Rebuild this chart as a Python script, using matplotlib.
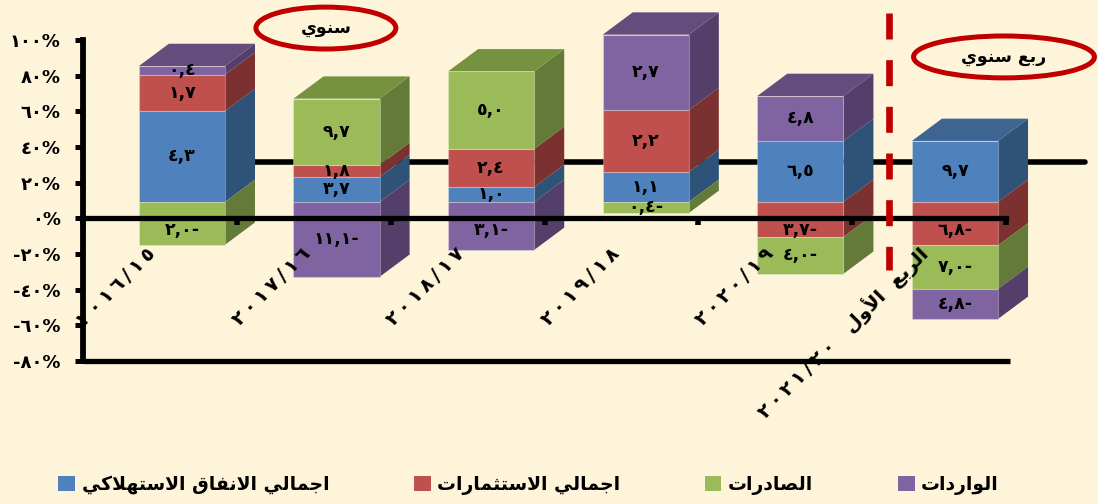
import unicodedata
import numpy as np
import matplotlib
matplotlib.use("Agg")
import matplotlib.pyplot as plt
from matplotlib.patches import Ellipse, Polygon, Patch

plt.rcParams['font.family'] = ['DejaVu Sans']
plt.rcParams['font.weight'] = 'bold'

# drawn height of each segment
blue = [51, 14, 8.4, 16.8, 34.2, 34.2]
red = [20.4, 6.7, 21.3, 34.7, -19.6, -24.4]
green = [-24, 37.2, 43.5, -6.2, -20.7, -24.4]
purple = [4.8, -42, -26.9, 42.3, 25.2, -16.8]

# printed labels
blue_labels = ["٤,٣", "٣,٧", "١,٠", "١,١", "٦,٥", "٩,٧"]
red_labels = ["١,٧", "١,٨", "٢,٤", "٢,٢", "٣,٧-", "٦,٨-"]
green_labels = ["٢,٠-", "٩,٧", "٥,٠", "٠,٤-", "٤,٠-", "٧,٠-"]
purple_labels = ["٠,٤", "١١,١-", "٣,١-", "٢,٧", "٤,٨", "٤,٨-"]

y_ticks = [100, 80, 60, 40, 20, 0, -20, -40, -60, -80]
y_tick_labels = ["١٠٠%", "٨٠%", "٦٠%", "٤٠%", "٢٠%", "٠%", "-٢٠%", "-٤٠%", "-٦٠%", "-٨٠%"]
years = ["٢٠١٦/١٥", "٢٠١٧/١٦", "٢٠١٨/١٧", "٢٠١٩/١٨", "٢٠٢٠/١٩", "٢٠٢١/٢٠"]


NO_NEXT = set("اأإآدذرزوؤةى")


def shape(text):
    # matplotlib does not join arabic letters, so pick the forms by hand
    # and put them in visual order
    out = []
    n = len(text)
    i = 0
    while i < n:
        c = text[i]
        if c == " ":
            out.append(c)
            i += 1
            continue
        joins_prev = i > 0 and text[i - 1] != " " and text[i - 1] not in NO_NEXT
        if c == "ل" and i + 1 < n and text[i + 1] in "اأ":
            base = "ARABIC LIGATURE LAM WITH ALEF"
            if text[i + 1] == "أ":
                base += " WITH HAMZA ABOVE"
            form = "FINAL FORM" if joins_prev else "ISOLATED FORM"
            out.append(unicodedata.lookup(base + " " + form))
            i += 2
            continue
        joins_next = c not in NO_NEXT and i + 1 < n and text[i + 1] != " "
        if joins_prev and joins_next:
            form = "MEDIAL FORM"
        elif joins_prev:
            form = "FINAL FORM"
        elif joins_next:
            form = "INITIAL FORM"
        else:
            form = "ISOLATED FORM"
        out.append(unicodedata.lookup(unicodedata.name(c) + " " + form))
        i += 1
    return "".join(reversed(out))


def spread(text):
    # the original digits sit far apart
    return "\u2009".join(text)


cat_labels = [spread(y) for y in years[:5]]
cat_labels.append(spread(years[5]) + "   " + shape("الربع  الأول"))
series_names = [shape("اجمالي الانفاق الاستهلاكي"), shape("اجمالي الاستثمارات"),
                shape("الصادرات"), shape("الواردات")]

bg = "#FEF4D9"
colors = ["#4F81BD", "#C0504D", "#9BBB59", "#8064A2"]
side_colors = ["#2F5279", "#7B3130", "#647A39", "#533F69"]
top_colors = ["#3E6591", "#8F3C3A", "#76923F", "#624D7C"]
all_values = [blue, red, green, purple]
all_labels = [blue_labels, red_labels, green_labels, purple_labels]

W, H = 1098, 504
fig = plt.figure(figsize=(W / 100, H / 100), dpi=100, facecolor=bg)
ax = fig.add_axes([83 / W, 1 - 361 / H, (1006 - 83) / W, (361 - 40) / H])
ax.set_facecolor("none")

x0 = -0.64
x1 = 5.33
ax.set_xlim(x0, x1)
ax.set_ylim(-80, 100)

base = 9.2      # front of the bars stands above the zero line
bar_w = 0.557
dx = 0.194
dy = 12.5
x = np.arange(6)

# line behind the bars
ax.plot([0, 5.84], [31.4, 31.4], color="black", lw=4, zorder=1,
        clip_on=False, solid_capstyle="round")

for i in x:
    pos = base
    neg = base
    top_series = 0
    for s, vals in enumerate(all_values):
        v = vals[i]
        if v >= 0:
            b = pos
            pos += v
            top_series = s
        else:
            b = neg + v
            neg += v
        ax.bar(i, abs(v), bottom=b, width=bar_w, color=colors[s],
               edgecolor=(1, 1, 1, 0.25), linewidth=0.8, zorder=3, clip_on=False)
        r = i + bar_w / 2
        ax.add_patch(Polygon([(r, b), (r, b + abs(v)), (r + dx, b + abs(v) + dy), (r + dx, b + dy)],
                             closed=True, facecolor=side_colors[s], edgecolor="none",
                             zorder=2, clip_on=False))
        mid = b + abs(v) / 2
        # labels crossing the zero line were pushed below it
        if b < 0 < b + abs(v) and abs(v) > 8:
            mid = min(mid, -6.5)
        ax.text(i, mid, all_labels[s][i], ha="center", va="center", fontsize=12.5,
                color="black", zorder=6)
    l = i - bar_w / 2
    r = i + bar_w / 2
    ax.add_patch(Polygon([(l, pos), (r, pos), (r + dx, pos + dy), (l + dx, pos + dy)],
                         closed=True, facecolor=top_colors[top_series], edgecolor="none",
                         zorder=2, clip_on=False))

for name in ["top", "right"]:
    ax.spines[name].set_visible(False)
ax.spines["left"].set_linewidth(4.2)
ax.spines["bottom"].set_linewidth(3.8)
ax.spines["bottom"].set_position(("data", 0))
ax.spines["left"].set_zorder(5)
ax.spines["bottom"].set_zorder(5)
ax.set_axisbelow(False)

ax.plot([x0, x1 + 0.025], [-80, -80], color="black", lw=3.8, zorder=5, clip_on=False,
        solid_capstyle="butt")

ax.set_yticks(y_ticks)
ax.set_yticklabels(y_tick_labels, fontsize=13)
ax.tick_params(axis="y", length=6, width=3.6, pad=10)
ax.set_xticks(np.linspace(x0, x1, 7))
ax.set_xticklabels([])
ax.tick_params(axis="x", direction="out", length=5, width=4)

for i, lab in enumerate(cat_labels):
    ax.text(i - 0.19, -18, lab, rotation=45, rotation_mode="anchor", ha="right", va="center",
            fontsize=14, color="black", zorder=7, clip_on=False)

# dashed divider
ax.plot([4.575, 4.575], [115, -29], color="#C00000", lw=4.8, linestyle=(0, (3.9, 3.1)),
        dash_capstyle="butt", zorder=8, clip_on=False)

# the two ovals
ax.add_patch(Ellipse((0.931, 106.7), 0.905, 23.5, fill=False, edgecolor="#C00000", lw=3.6,
                     zorder=8, clip_on=False))
ax.text(0.931, 106.7, shape("سنوي"), ha="center", va="center", fontsize=12.5, zorder=9)
ax.add_patch(Ellipse((5.317, 90.5), 1.17, 23.5, fill=False, edgecolor="#C00000", lw=3.6,
                     zorder=8, clip_on=False))
ax.text(5.317, 90.5, shape("ربع سنوي"), ha="center", va="center", fontsize=12.5, zorder=9)

handles = [Patch(facecolor=c, edgecolor="none") for c in colors]
fig.legend(handles, series_names, ncol=4, loc="center", bbox_to_anchor=(528.5 / W, 1 - 485 / H),
           frameon=False, fontsize=13.5, handlelength=0.9, handleheight=0.9,
           handletextpad=0.35, columnspacing=4.5)

fig.savefig("out.png", dpi=100, facecolor=bg)
